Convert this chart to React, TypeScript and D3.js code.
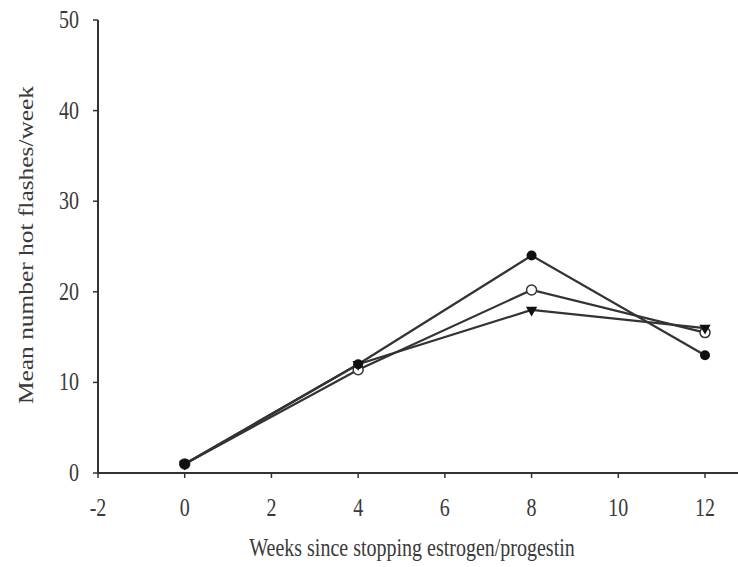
import React from "react";
import * as d3 from "d3";

const weeks = [0, 4, 8, 12];
const filledCircle = [1, 12, 24, 13];
const openCircle = [1, 11.4, 20.2, 15.5];
const downTriangle = [1, 12, 18, 16];
const xTicks = [-2, 0, 2, 4, 6, 8, 10, 12];
const yTicks = [0, 10, 20, 30, 40, 50];

const W = 738;
const H = 567;
const FONT = "'Liberation Serif', 'Times New Roman', serif";
const INK = "#333";
const TXT = "#3a3a3a";
const SY = 1.27;

export default function App() {
  const x = d3.scaleLinear().domain([-2, 12]).range([98, 705]);
  const y = d3.scaleLinear().domain([0, 50]).range([473, 20]);
  const line = d3
    .line<number>()
    .x((_, i) => x(weeks[i]))
    .y((d) => y(d));
  const x0 = x(-2);
  const tri = d3.symbol().type(d3.symbolTriangle).size(55);

  const series = [
    { name: "filled", values: filledCircle },
    { name: "open", values: openCircle },
    { name: "tri", values: downTriangle },
  ];

  return (
    <svg
      width={W}
      height={H}
      style={{ position: "absolute", left: 0, top: 0, background: "#fff" }}
    >
      {/* axes */}
      <line x1={x0} x2={x0} y1={y(50)} y2={y(0)} stroke={INK} strokeWidth={2} />
      <line x1={x0} x2={W} y1={y(0)} y2={y(0)} stroke={INK} strokeWidth={2} />
      {yTicks.map((t) => (
        <g key={"y" + t}>
          <line x1={x0 - 5} x2={x0} y1={y(t)} y2={y(t)} stroke={INK} strokeWidth={1.5} />
          <text
            transform={`translate(${x0 - 19},${y(t) + 8}) scale(1,${SY})`}
            textAnchor="end"
            fontFamily={FONT}
            fontSize={20}
            fill={TXT}
          >
            {t}
          </text>
        </g>
      ))}
      {xTicks.map((t) => (
        <g key={"x" + t}>
          <line x1={x(t)} x2={x(t)} y1={y(0)} y2={y(0) + 5} stroke={INK} strokeWidth={1.5} />
          <text
            transform={`translate(${x(t)},${516}) scale(1,${SY})`}
            textAnchor="middle"
            fontFamily={FONT}
            fontSize={20}
            fill={TXT}
          >
            {t}
          </text>
        </g>
      ))}
      <text
        transform={`translate(412,556) scale(1,${SY})`}
        textAnchor="middle"
        fontFamily={FONT}
        fontSize={20}
        fill={TXT}
      >
        Weeks since stopping estrogen/progestin
      </text>
      <text
        transform={`translate(33,245) scale(1,${SY}) rotate(-90)`}
        textAnchor="middle"
        fontFamily={FONT}
        fontSize={20}
        fill={TXT}
      >
        Mean number hot flashes/week
      </text>

      {/* lines */}
      {series.map((s) => (
        <path
          key={s.name}
          d={line(s.values) || ""}
          fill="none"
          stroke={INK}
          strokeWidth={2.2}
        />
      ))}

      {/* markers */}
      {openCircle.map((v, i) => (
        <circle
          key={"o" + i}
          cx={x(weeks[i])}
          cy={y(v)}
          r={5}
          fill="#fff"
          stroke={INK}
          strokeWidth={1.5}
        />
      ))}
      {filledCircle.map((v, i) => (
        <circle key={"f" + i} cx={x(weeks[i])} cy={y(v)} r={5} fill="#111" />
      ))}
      {downTriangle.map((v, i) => (
        <path
          key={"t" + i}
          d={tri() || ""}
          transform={`translate(${x(weeks[i])},${y(v)}) rotate(180)`}
          fill="#111"
        />
      ))}
    </svg>
  );
}
